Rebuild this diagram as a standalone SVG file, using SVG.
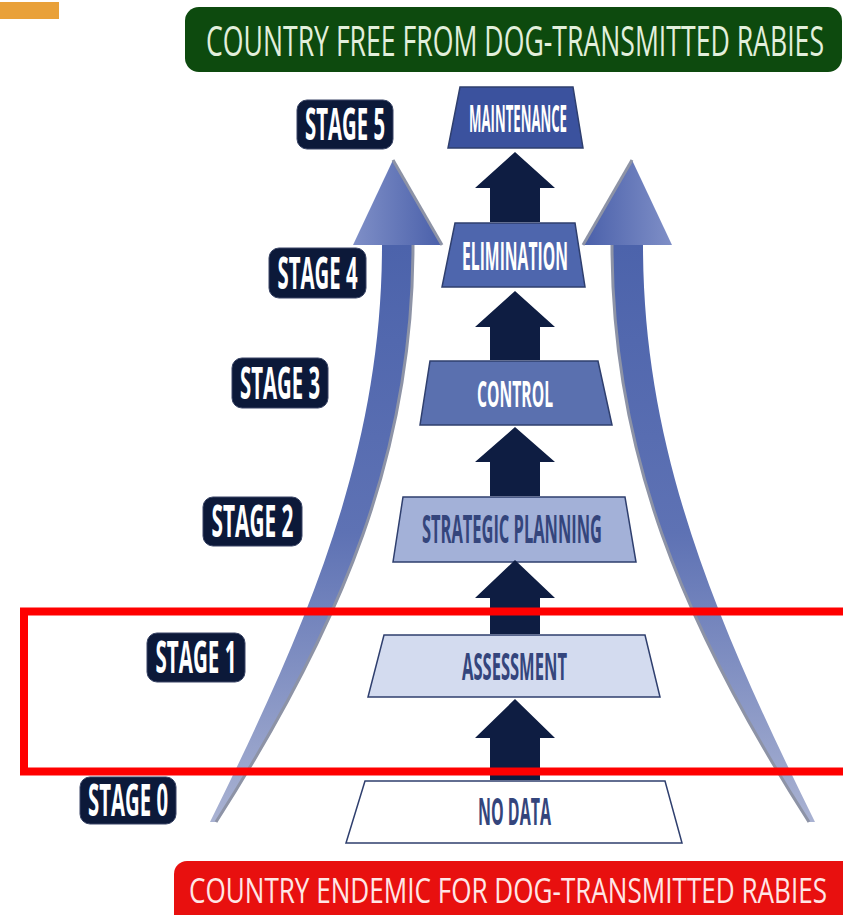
<svg xmlns="http://www.w3.org/2000/svg" width="843" height="915" viewBox="0 0 843 915">
<style>
.lbl{font-family:"Open Sans","Liberation Sans",sans-serif;font-weight:700;text-anchor:middle}
.badge rect{fill:#0c1939;stroke:#3a4566;stroke-width:1}
.badge text{fill:#ffffff;font-size:19.5px}
.trap{stroke:#2f3f6e;stroke-width:1.5}
.lt{fill:#ffffff}
.dk{fill:#34457c}
.blk{fill:#0e1d42}
.banner{font-family:"Open Sans","Liberation Sans",sans-serif;font-weight:400;text-anchor:middle}
</style>
<defs>
<linearGradient id="swoosh" x1="0" y1="0" x2="0" y2="1">
<stop offset="0" stop-color="#4c63ab"/>
<stop offset="0.5" stop-color="#5e72b4"/>
<stop offset="1" stop-color="#a9b2d2"/>
</linearGradient>
<linearGradient id="head" x1="0" y1="0" x2="1" y2="0">
<stop offset="0" stop-color="#7f8fc7"/>
<stop offset="1" stop-color="#4a60aa"/>
</linearGradient>
</defs>
<rect x="0" y="2" width="59" height="17" fill="#e9a13a"/>
<g id="banner-free">
<rect x="185" y="7" width="657" height="65" rx="14" fill="#0d4a0e"/>
<text class="banner" transform="translate(515,56) scale(1,1.65)" x="0" y="0" font-size="25.5" fill="#e2efdc" textLength="618" lengthAdjust="spacingAndGlyphs">COUNTRY FREE FROM DOG-TRANSMITTED RABIES</text>
</g>
<g id="swoosh-left">
<path d="M382,245 C382,450 310,620 210,822 L216,822 C345,620 413,450 413,245 Z" fill="url(#swoosh)"/>
<path d="M413,245 C413,450 345,620 216,822" fill="none" stroke="#8d93a6" stroke-width="3"/>
<path d="M353,245 L393,160 L442,245 Z" fill="url(#head)"/>
<path d="M393,160 L442,245" fill="none" stroke="#8d93a6" stroke-width="3"/>
</g>
<g id="swoosh-right" transform="translate(1025,0) scale(-1,1)">
<path d="M382,245 C382,450 310,620 210,822 L216,822 C345,620 413,450 413,245 Z" fill="url(#swoosh)"/>
<path d="M413,245 C413,450 345,620 216,822" fill="none" stroke="#8d93a6" stroke-width="3"/>
<path d="M353,245 L393,160 L442,245 Z" fill="url(#head)"/>
<path d="M393,160 L442,245" fill="none" stroke="#8d93a6" stroke-width="3"/>
</g>
<g id="stage5" class="badge"><rect x="297" y="100" width="96" height="49" rx="10"/><text class="lbl" transform="translate(345,140) scale(1,2.3)" x="0" y="0" textLength="80" lengthAdjust="spacingAndGlyphs">STAGE 5</text></g>
<g id="stage4" class="badge"><rect x="269" y="248" width="97" height="50" rx="10"/><text class="lbl" transform="translate(317.5,289) scale(1,2.3)" x="0" y="0" textLength="80" lengthAdjust="spacingAndGlyphs">STAGE 4</text></g>
<g id="stage3" class="badge"><rect x="232" y="358" width="96" height="50" rx="10"/><text class="lbl" transform="translate(280,399) scale(1,2.3)" x="0" y="0" textLength="80" lengthAdjust="spacingAndGlyphs">STAGE 3</text></g>
<g id="stage2" class="badge"><rect x="203" y="497" width="99" height="49" rx="10"/><text class="lbl" transform="translate(252.5,537) scale(1,2.3)" x="0" y="0" textLength="82" lengthAdjust="spacingAndGlyphs">STAGE 2</text></g>
<g id="stage1" class="badge"><rect x="147" y="633" width="98" height="49" rx="10"/><text class="lbl" transform="translate(196,673) scale(1,2.3)" x="0" y="0" textLength="81" lengthAdjust="spacingAndGlyphs">STAGE 1</text></g>
<g id="stage0" class="badge"><rect x="80" y="777" width="96" height="47" rx="10"/><text class="lbl" transform="translate(128,816) scale(1,2.3)" x="0" y="0" textLength="80" lengthAdjust="spacingAndGlyphs">STAGE 0</text></g>
<g id="maintenance"><path class="trap" d="M460,87 L573,87 L583,148 L448,148 Z" fill="#3b529e"/><text class="lbl lt" transform="translate(518,132) scale(1,3.0)" x="0" y="0" font-size="12.5" textLength="98" lengthAdjust="spacingAndGlyphs">MAINTENANCE</text></g>
<g id="elimination"><path class="trap" d="M455,223 L575,223 L585,287 L442,287 Z" fill="#4e66ad"/><text class="lbl lt" transform="translate(515,270) scale(1,2.6)" x="0" y="0" font-size="15" textLength="106" lengthAdjust="spacingAndGlyphs">ELIMINATION</text></g>
<g id="control"><path class="trap" d="M430,361 L598,361 L612,425 L420,425 Z" fill="#5a70af"/><text class="lbl lt" transform="translate(515,407) scale(1,2.35)" x="0" y="0" font-size="15" textLength="76" lengthAdjust="spacingAndGlyphs">CONTROL</text></g>
<g id="strategic-planning"><path class="trap" d="M403,497 L625,497 L636,562 L393,562 Z" fill="#a3b1d8"/><text class="lbl dk" transform="translate(512,543) scale(1,2.53)" x="0" y="0" font-size="15.5" textLength="180" lengthAdjust="spacingAndGlyphs">STRATEGIC PLANNING</text></g>
<g id="assessment"><path class="trap" d="M384,635 L645,635 L660,697 L368,697 Z" fill="#d3dbef"/><text class="lbl dk" transform="translate(514.5,680) scale(1,2.36)" x="0" y="0" font-size="16" textLength="105" lengthAdjust="spacingAndGlyphs">ASSESSMENT</text></g>
<g id="no-data"><path class="trap" d="M365,781 L665,781 L682,843 L346,843 Z" fill="#ffffff" stroke="#44506e"/><text class="lbl dk" transform="translate(514.5,825) scale(1,2.44)" x="0" y="0" font-size="15.5" textLength="73" lengthAdjust="spacingAndGlyphs" fill="#2e3c66">NO DATA</text></g>
<g id="connectors">
<path class="blk" d="M515,152 L555,188 L540,188 L540,222 L490,222 L490,188 L475,188 Z"/>
<path class="blk" d="M515,291 L555,327 L540,327 L540,360 L490,360 L490,327 L475,327 Z"/>
<path class="blk" d="M515,427 L555,462 L540,462 L540,496 L490,496 L490,462 L475,462 Z"/>
<path class="blk" d="M515,560 L555,598 L540,598 L540,634 L490,634 L490,598 L475,598 Z"/>
<path class="blk" d="M515,699 L555,738 L540,738 L540,780 L490,780 L490,738 L475,738 Z"/>
</g>
<g id="banner-endemic">
<rect x="174" y="861" width="690" height="70" rx="13" fill="#e8100f"/>
<text class="banner" transform="translate(508,903) scale(1,1.38)" x="0" y="0" font-size="25" fill="#ffe6e6" textLength="638" lengthAdjust="spacingAndGlyphs">COUNTRY ENDEMIC FOR DOG-TRANSMITTED RABIES</text>
</g>
<rect id="highlight" x="24" y="611.5" width="830" height="160" fill="none" stroke="#ff0000" stroke-width="8"/>
</svg>
